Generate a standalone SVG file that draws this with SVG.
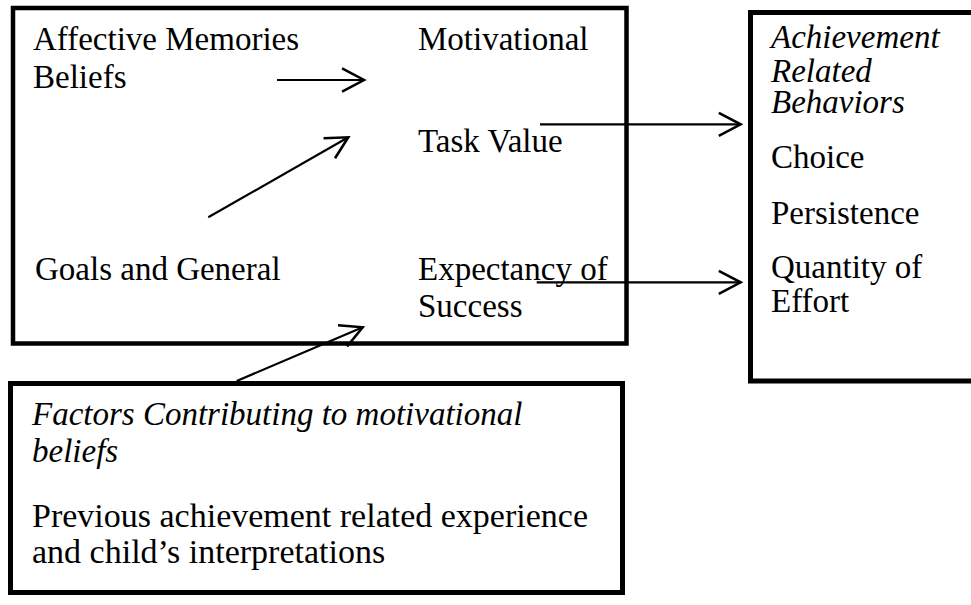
<svg xmlns="http://www.w3.org/2000/svg" width="971" height="605" viewBox="0 0 971 605">
<style>
.box{fill:none;stroke:#000;stroke-width:4.5}
.t{font-family:"Liberation Serif","Times New Roman",serif;font-size:33px;fill:#000}
.i{font-style:italic}
.c{stroke:#000;stroke-width:2.2;fill:none}
</style>
<defs>
<marker id="ah" markerUnits="userSpaceOnUse" orient="auto" refX="0" refY="0" markerWidth="30" markerHeight="30" viewBox="-22 -12 26 24" overflow="visible">
<path d="M-19,-10 L0,0 L-19,10" fill="none" stroke="#000" stroke-width="2.2"/>
</marker>
</defs>
<rect width="971" height="605" fill="#fff"/>
<g id="main-box">
<rect class="box" x="13" y="8" width="613.5" height="335.5"/>
<text class="t" x="33" y="50">Affective Memories</text>
<text class="t" x="33" y="88">Beliefs</text>
<text class="t" x="418" y="50">Motivational</text>
<text class="t" x="418" y="152">Task Value</text>
<text class="t" x="35" y="280">Goals and General</text>
<text class="t" x="418" y="280">Expectancy of</text>
<text class="t" x="418" y="317">Success</text>
</g>
<g id="behaviors-box">
<rect class="box" x="750.5" y="12.5" width="260" height="368.5" style="stroke-width:5"/>
<text class="t i" x="771" y="48">Achievement</text>
<text class="t i" x="771" y="82">Related</text>
<text class="t i" x="771" y="113">Behaviors</text>
<text class="t" x="771" y="168">Choice</text>
<text class="t" x="771" y="224">Persistence</text>
<text class="t" x="771" y="278">Quantity of</text>
<text class="t" x="771" y="312">Effort</text>
</g>
<g id="factors-box">
<rect class="box" x="10.5" y="383.5" width="612" height="209" style="stroke-width:5"/>
<text class="t i" x="32" y="425">Factors Contributing to motivational</text>
<text class="t i" x="32" y="462">beliefs</text>
<text class="t" x="32" y="527" style="font-size:34px">Previous achievement related experience</text>
<text class="t" x="32" y="563" style="font-size:34px">and child’s interpretations</text>
</g>
<g id="connectors">
<line class="c" x1="277" y1="80" x2="364" y2="80" marker-end="url(#ah)"/>
<line class="c" x1="208.3" y1="217.3" x2="348.3" y2="137.3" marker-end="url(#ah)"/>
<line class="c" x1="540" y1="124.3" x2="740.7" y2="124.3" marker-end="url(#ah)"/>
<line class="c" x1="536.7" y1="282.3" x2="740.7" y2="282.3" marker-end="url(#ah)"/>
<line class="c" x1="236.7" y1="381" x2="362.7" y2="327.3" marker-end="url(#ah)"/>
</g>
</svg>
